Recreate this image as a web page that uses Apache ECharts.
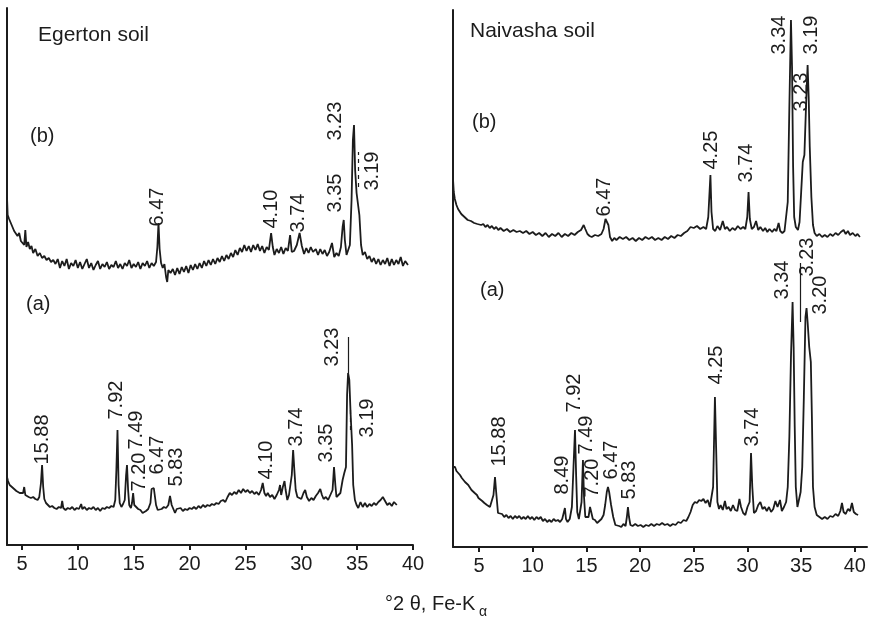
<!DOCTYPE html>
<html>
<head>
<meta charset="utf-8">
<script src="https://cdn.jsdelivr.net/npm/echarts@6/dist/echarts.min.js"></script>
<style>
  html, body { margin: 0; padding: 0; background: #fff; }
  #chart { width: 870px; height: 617px; }
</style>
</head>
<body>
<div id="chart"></div>
<script>
// tick values along 2-theta axis
const tickValues = [5, 10, 15, 20, 25, 30, 35, 40];

// Egerton soil, trace (b) : [2theta, intensity]
const egertonB = [
  [3.66,348],[3.72,330],[3.85,326],[4.0,322],[4.15,318],[4.3,314],[4.45,316],[4.6,309],[4.75,312],[4.9,304],
  [5.05,306],[5.2,300],[5.3,315],[5.4,298],[5.55,303],[5.7,296],[5.85,299],[6.0,292],[6.2,296],[6.4,289],
  [6.6,292],[6.8,287],[7.0,289],[7.2,285],[7.4,287],[7.6,283],[7.8,285],[8.0,281],[8.2,286],[8.4,277],
  [8.6,284],[8.8,279],[9.0,286],[9.2,276],[9.4,282],[9.6,279],[9.8,285],[10.0,277],[10.2,283],[10.4,276],
  [10.6,281],[10.8,286],[11.0,277],[11.2,282],[11.4,275],[11.6,280],[11.8,284],[12.0,276],[12.2,281],[12.4,278],
  [12.6,283],[12.8,276],[13.0,280],[13.2,278],[13.4,284],[13.6,277],[13.8,281],[14.0,276],[14.2,282],[14.4,279],
  [14.6,285],[14.8,277],[15.0,281],[15.2,278],[15.4,283],[15.6,276],[15.8,282],[16.0,279],[16.2,284],[16.4,277],
  [16.6,282],[16.8,279],[17.0,283],[17.12,298],[17.22,322],[17.32,296],[17.45,282],[17.6,277],[17.75,281],[17.9,268],
  [18.0,263],[18.1,275],[18.3,272],[18.5,276],[18.7,270],[18.9,277],[19.1,271],[19.3,278],[19.5,273],[19.7,279],
  [19.9,272],[20.1,280],[20.3,275],[20.5,281],[20.7,276],[20.9,282],[21.1,277],[21.3,284],[21.5,279],[21.7,285],
  [21.9,280],[22.1,286],[22.3,281],[22.5,287],[22.7,283],[22.9,289],[23.1,284],[23.3,290],[23.5,286],[23.7,292],
  [23.9,288],[24.1,295],[24.3,290],[24.5,297],[24.7,293],[24.9,300],[25.1,294],[25.3,299],[25.5,293],[25.7,300],
  [25.9,295],[26.1,301],[26.3,294],[26.5,299],[26.7,292],[26.9,298],[27.1,295],[27.3,312],[27.45,298],[27.6,290],
  [27.8,296],[28.0,292],[28.2,298],[28.4,291],[28.6,297],[28.8,294],[29.0,310],[29.15,293],[29.35,294],[29.6,300],
  [29.85,312],[30.05,299],[30.25,291],[30.45,297],[30.65,292],[30.85,298],[31.05,293],[31.3,296],[31.5,290],[31.7,296],
  [31.9,291],[32.1,295],[32.3,289],[32.5,293],[32.75,302],[32.95,288],[33.15,292],[33.35,289],[33.55,298],[33.7,318],
  [33.8,325],[33.9,305],[34.05,290],[34.2,288],[34.35,300],[34.5,345],[34.62,405],[34.72,420],[34.82,375],[34.95,352],
  [35.08,353],[35.2,330],[35.35,300],[35.5,290],[35.7,293],[35.9,286],[36.1,289],[36.3,283],[36.5,287],[36.7,281],
  [36.9,286],[37.1,280],[37.3,285],[37.5,281],[37.7,287],[37.9,279],[38.1,286],[38.3,280],[38.5,285],[38.7,281],
  [38.9,288],[39.1,279],[39.3,284],[39.55,280]
];

// Egerton soil, trace (a)
const egertonA = [
  [3.66,68],[3.75,64],[3.9,60],[4.05,58],[4.2,57],[4.35,55],[4.5,54],[4.65,55],[4.8,52],[4.95,51],
  [5.1,52],[5.2,58],[5.3,50],[5.45,49],[5.6,48],[5.8,47],[6.0,48],[6.2,46],[6.4,45],[6.55,48],
  [6.7,62],[6.8,80],[6.9,58],[7.0,46],[7.15,42],[7.3,40],[7.5,38],[7.7,39],[7.9,37],[8.1,36],
  [8.3,38],[8.5,37],[8.6,44],[8.7,37],[8.9,35],[9.1,37],[9.3,36],[9.5,38],[9.7,35],[9.9,37],
  [10.1,36],[10.3,41],[10.4,36],[10.6,38],[10.8,35],[11.0,37],[11.2,36],[11.4,38],[11.6,35],[11.8,37],
  [12.0,34],[12.2,37],[12.4,36],[12.6,38],[12.8,37],[13.0,39],[13.2,38],[13.35,45],[13.45,75],[13.55,115],
  [13.65,60],[13.75,42],[13.9,38],[14.05,41],[14.2,45],[14.32,70],[14.4,80],[14.5,55],[14.6,40],[14.75,37],
  [14.85,42],[14.95,52],[15.05,40],[15.2,38],[15.4,36],[15.6,35],[15.8,32],[15.95,30],[16.1,34],[16.3,36],
  [16.5,42],[16.6,56],[16.7,58],[16.8,57],[16.9,56],[17.0,40],[17.15,35],[17.3,37],[17.5,36],[17.7,38],
  [17.9,37],[18.1,40],[18.25,49],[18.4,40],[18.55,36],[18.7,32],[18.85,36],[19.0,35],[19.2,37],[19.4,34],
  [19.6,36],[19.8,35],[20.0,37],[20.2,36],[20.4,38],[20.6,36],[20.8,39],[21.0,37],[21.2,40],[21.4,38],
  [21.6,40],[21.8,39],[22.0,41],[22.2,40],[22.4,42],[22.6,41],[22.8,44],[23.0,45],[23.2,43],[23.4,48],
  [23.6,52],[23.8,50],[24.0,53],[24.2,51],[24.4,55],[24.6,52],[24.8,56],[25.0,53],[25.2,55],[25.4,52],
  [25.6,54],[25.8,51],[26.0,53],[26.2,50],[26.4,55],[26.55,62],[26.7,52],[26.85,49],[27.0,52],[27.2,48],
  [27.4,50],[27.6,46],[27.8,50],[28.0,55],[28.1,60],[28.2,50],[28.35,58],[28.5,64],[28.6,55],[28.75,45],
  [28.9,50],[29.05,52],[29.15,70],[29.27,95],[29.38,75],[29.5,55],[29.65,48],[29.8,50],[30.0,46],[30.2,52],
  [30.35,55],[30.5,48],[30.7,44],[30.9,47],[31.1,45],[31.3,49],[31.5,52],[31.7,56],[31.85,50],[32.0,46],
  [32.2,48],[32.4,45],[32.6,50],[32.8,55],[32.93,78],[33.05,60],[33.15,48],[33.3,46],[33.5,52],[33.7,65],
  [33.85,72],[34.0,78],[34.1,150],[34.19,172],[34.3,165],[34.42,130],[34.55,100],[34.65,60],[34.8,45],[34.95,40],
  [35.1,37],[35.3,43],[35.5,38],[35.7,42],[35.9,38],[36.1,41],[36.3,39],[36.5,42],[36.7,40],[36.9,43],
  [37.1,45],[37.3,48],[37.5,44],[37.7,40],[37.9,42],[38.1,39],[38.3,43],[38.55,40]
];

// Naivasha soil, trace (b)
const naivashaB = [
  [2.58,368],[2.65,355],[2.75,348],[2.9,342],[3.05,338],[3.2,336],[3.35,333],[3.5,334],[3.65,330],[3.8,331],
  [3.95,327],[4.1,329],[4.25,326],[4.4,327],[4.55,324],[4.7,326],[4.85,323],[5.0,325],[5.2,322],[5.4,323],
  [5.6,320],[5.8,322],[6.0,319],[6.2,321],[6.4,318],[6.6,320],[6.8,317],[7.0,319],[7.3,316],[7.6,318],
  [7.9,315],[8.2,317],[8.5,315],[8.8,316],[9.1,314],[9.4,316],[9.7,313],[10.0,315],[10.3,312],[10.6,314],
  [10.9,311],[11.2,314],[11.5,310],[11.8,313],[12.1,311],[12.4,314],[12.7,310],[13.0,313],[13.3,311],[13.6,314],
  [13.9,312],[14.2,315],[14.5,317],[14.75,322],[14.9,318],[15.1,313],[15.3,311],[15.5,310],[15.8,312],[16.1,311],
  [16.4,313],[16.6,318],[16.78,328],[16.92,330],[17.05,322],[17.2,310],[17.4,306],[17.6,309],[17.8,307],[18.1,310],
  [18.4,308],[18.7,310],[19.0,307],[19.3,309],[19.6,306],[19.9,309],[20.2,307],[20.5,310],[20.8,308],[21.1,310],
  [21.4,307],[21.7,309],[22.0,307],[22.3,310],[22.6,308],[22.9,311],[23.2,309],[23.5,312],[23.8,311],[24.1,314],
  [24.4,316],[24.7,320],[25.0,319],[25.3,321],[25.6,318],[25.9,320],[26.15,318],[26.35,330],[26.55,372],[26.65,335],
  [26.8,318],[27.0,316],[27.2,321],[27.45,317],[27.7,326],[27.9,318],[28.1,320],[28.35,316],[28.6,319],[28.85,317],
  [29.1,321],[29.35,318],[29.6,320],[29.8,318],[29.98,330],[30.1,355],[30.22,328],[30.4,318],[30.6,320],[30.8,326],
  [31.0,317],[31.2,320],[31.45,316],[31.65,319],[31.85,315],[32.05,318],[32.3,315],[32.5,318],[32.7,316],[32.9,324],
  [33.05,316],[33.25,314],[33.45,316],[33.6,318],[33.75,345],[33.9,440],[34.05,527],[34.15,480],[34.25,380],[34.35,330],
  [34.5,320],[34.7,317],[34.85,325],[35.0,355],[35.15,385],[35.3,392],[35.45,440],[35.6,482],[35.7,450],[35.8,400],
  [35.95,350],[36.1,322],[36.25,314],[36.45,311],[36.7,313],[36.95,310],[37.2,312],[37.45,310],[37.7,313],[37.95,311],
  [38.2,314],[38.45,312],[38.7,315],[38.95,317],[39.15,313],[39.35,316],[39.55,312],[39.8,314],[40.05,311],[40.25,313],
  [40.47,310]
];

// Naivasha soil, trace (a)
const naivashaA = [
  [2.58,80],[2.77,80],[2.9,76],[3.05,74],[3.23,72],[3.4,69],[3.55,67],[3.7,65],[3.85,63],[4.0,62],
  [4.16,60],[4.3,57],[4.45,55],[4.6,54],[4.81,52],[4.95,49],[5.1,47],[5.3,46],[5.5,44],[5.74,42],
  [5.9,41],[6.02,40],[6.2,42],[6.35,52],[6.49,70],[6.6,55],[6.77,34],[6.95,32],[7.15,33],[7.35,30],
  [7.55,32],[7.75,29],[7.95,31],[8.15,28],[8.35,31],[8.55,29],[8.75,31],[8.95,28],[9.15,30],[9.35,28],
  [9.55,31],[9.75,28],[9.95,30],[10.15,27],[10.35,30],[10.55,28],[10.75,30],[10.95,26],[11.15,28],[11.35,25],
  [11.55,27],[11.75,25],[11.95,28],[12.15,26],[12.35,27],[12.55,25],[12.75,28],[12.9,30],[13.0,39],[13.1,28],
  [13.25,25],[13.45,28],[13.65,40],[13.8,80],[13.94,117],[14.05,70],[14.15,35],[14.3,28],[14.45,30],[14.55,45],
  [14.68,87],[14.78,50],[14.9,30],[15.05,32],[15.2,30],[15.34,40],[15.45,35],[15.6,28],[15.8,27],[16.0,24],
  [16.2,26],[16.4,28],[16.6,32],[16.75,42],[16.9,55],[17.01,60],[17.12,55],[17.3,42],[17.5,30],[17.7,22],
  [17.85,20],[18.05,21],[18.25,20],[18.45,23],[18.65,21],[18.77,30],[18.87,40],[18.97,30],[19.1,22],[19.3,21],
  [19.55,23],[19.8,21],[20.05,22],[20.3,20],[20.55,22],[20.8,21],[21.05,23],[21.3,21],[21.55,23],[21.8,22],
  [22.05,24],[22.3,22],[22.55,23],[22.8,21],[23.05,23],[23.3,22],[23.55,25],[23.8,24],[24.05,27],[24.3,26],
  [24.5,30],[24.7,35],[24.9,42],[25.1,45],[25.3,44],[25.5,47],[25.7,46],[25.9,48],[26.1,44],[26.3,47],
  [26.5,40],[26.65,38],[26.8,60],[26.97,150],[27.08,100],[27.2,45],[27.35,38],[27.5,42],[27.7,37],[27.9,46],
  [28.05,38],[28.25,40],[28.45,36],[28.65,42],[28.85,37],[29.05,36],[29.25,48],[29.4,40],[29.6,34],[29.8,32],
  [30.0,40],[30.2,45],[30.33,94],[30.45,60],[30.6,34],[30.8,36],[31.0,42],[31.2,45],[31.4,38],[31.6,40],
  [31.8,36],[32.0,40],[32.2,35],[32.4,38],[32.6,46],[32.8,40],[33.03,47],[33.2,36],[33.4,40],[33.6,45],
  [33.75,60],[33.9,110],[34.05,190],[34.2,245],[34.3,200],[34.4,120],[34.5,60],[34.65,40],[34.8,42],[34.95,55],
  [35.1,80],[35.25,150],[35.4,230],[35.5,239],[35.6,225],[35.75,200],[35.9,185],[36.0,130],[36.1,60],[36.25,40],
  [36.45,32],[36.7,30],[36.95,28],[37.2,30],[37.45,28],[37.7,31],[37.95,30],[38.2,33],[38.45,31],[38.65,36],
  [38.8,44],[38.95,35],[39.15,33],[39.35,38],[39.55,36],[39.73,44],[39.9,35],[40.1,33],[40.3,32]
];

// peak annotations: [d-spacing text, 2theta, intensity where label starts]
const egertonBLabels = [['6.47',17.18,318],['4.10',27.38,316],['3.74',29.8,312],['3.35',33.11,332],['3.23',33.11,404],['3.19',36.42,354]];
const egertonALabels = [['15.88',6.88,80],['7.92',13.5,125],['7.49',15.3,95],['7.20',15.56,53],['6.47',17.18,70],['5.83',18.88,58],
  ['4.10',26.93,65],['3.74',29.62,98],['3.35',32.31,82],['3.23',32.84,178],['3.19',35.98,107]];
const naivashaBLabels = [['6.47',16.73,330],['4.25',26.69,377],['3.74',29.95,364],['3.34',33.03,492],['3.23',35.07,435],['3.19',36.0,492]];
const naivashaALabels = [['15.88',6.96,80],['8.49',12.82,52],['7.92',13.94,134],['7.49',15.06,92],['7.20',15.61,49],['6.47',17.38,67],
  ['5.83',19.06,47],['4.25',27.16,162],['3.74',30.51,100],['3.34',33.31,247],['3.23',35.63,270],['3.20',36.84,232]];

// leader lines from peak tops to labels: [2theta, from, to, dashed]
const egertonBLeaders = [[35.08,358,393,true]];
const egertonALeaders = [[34.19,172,208,false],[34.36,115,138,true]];
const naivashaBLeaders = [];
const naivashaALeaders = [[34.89,225,284,false]];

const INK = '#1c1c1c';
const FONT = 'Liberation Sans, Arial, Helvetica, sans-serif';

const chart = echarts.init(document.getElementById('chart'), null, {renderer: 'canvas'});

const makeX = (idx, min, max) => ({
  type: 'value', gridIndex: idx, min: min, max: max,
  axisLine: {show: true, onZero: false, lineStyle: {color: INK, width: 2}},
  axisTick: {show: true, customValues: tickValues, length: 5, inside: false, lineStyle: {color: INK, width: 2}},
  axisLabel: {show: true, customValues: tickValues, color: INK, fontSize: 20, fontFamily: FONT, margin: 9},
  splitLine: {show: false}
});
const makeY = (idx) => ({
  type: 'value', gridIndex: idx, min: 0, max: 537,
  axisLine: {show: true, onZero: false, lineStyle: {color: INK, width: 2}},
  axisTick: {show: false}, axisLabel: {show: false}, splitLine: {show: false}
});
const trace = (data, idx) => ({
  type: 'line', xAxisIndex: idx, yAxisIndex: idx, data: data,
  showSymbol: false, symbol: 'none', smooth: false,
  lineStyle: {color: INK, width: 1.8}, z: 3
});
const labels = (list, leaders, idx) => ({
  type: 'scatter', xAxisIndex: idx, yAxisIndex: idx,
  symbolSize: 1, itemStyle: {color: 'rgba(0,0,0,0)'},
  data: list.map(l => ({name: l[0], value: [l[1], l[2]]})),
  label: {
    show: true, formatter: '{b}', rotate: 90, position: [0, 0],
    align: 'left', verticalAlign: 'middle', opacity: 1,
    color: INK, fontSize: 20, fontFamily: FONT
  },
  labelLayout: {hideOverlap: false},
  markLine: {
    silent: true, symbol: 'none', animation: false,
    label: {show: false},
    data: leaders.map(l => [
      {coord: [l[0], l[1]], lineStyle: {color: INK, width: 1.2, type: l[3] ? [4, 4] : 'solid'}},
      {coord: [l[0], l[2]]}
    ])
  },
  z: 4
});

const txt = (text, x, y, size) => ({
  type: 'text', x: x, y: y,
  style: {text: text, fill: INK, fontSize: size, fontFamily: FONT, verticalAlign: 'middle'}
});

const option = {
  animation: false,
  backgroundColor: '#ffffff',
  grid: [
    {left: 7, right: 457, top: 8, bottom: 72},
    {left: 453, right: 3, top: 10, bottom: 70}
  ],
  xAxis: [makeX(0, 3.66, 40), makeX(1, 2.58, 41.13)],
  yAxis: [makeY(0), makeY(1)],
  series: [
    trace(egertonB, 0), trace(egertonA, 0),
    trace(naivashaB, 1), trace(naivashaA, 1),
    labels(egertonBLabels, egertonBLeaders, 0),
    labels(egertonALabels, egertonALeaders, 0),
    labels(naivashaBLabels, naivashaBLeaders, 1),
    labels(naivashaALabels, naivashaALeaders, 1)
  ],
  graphic: [
    txt('Egerton soil', 38, 35, 21),
    txt('(b)', 30, 136, 20),
    txt('(a)', 26, 304, 20),
    txt('Naivasha soil', 470, 31, 21),
    txt('(b)', 472, 122, 20),
    txt('(a)', 480, 290, 20),
    txt('°2 θ, Fe-K', 385, 604, 20),
    txt('α', 479, 612, 14)
  ]
};

chart.setOption(option);
</script>
</body>
</html>
